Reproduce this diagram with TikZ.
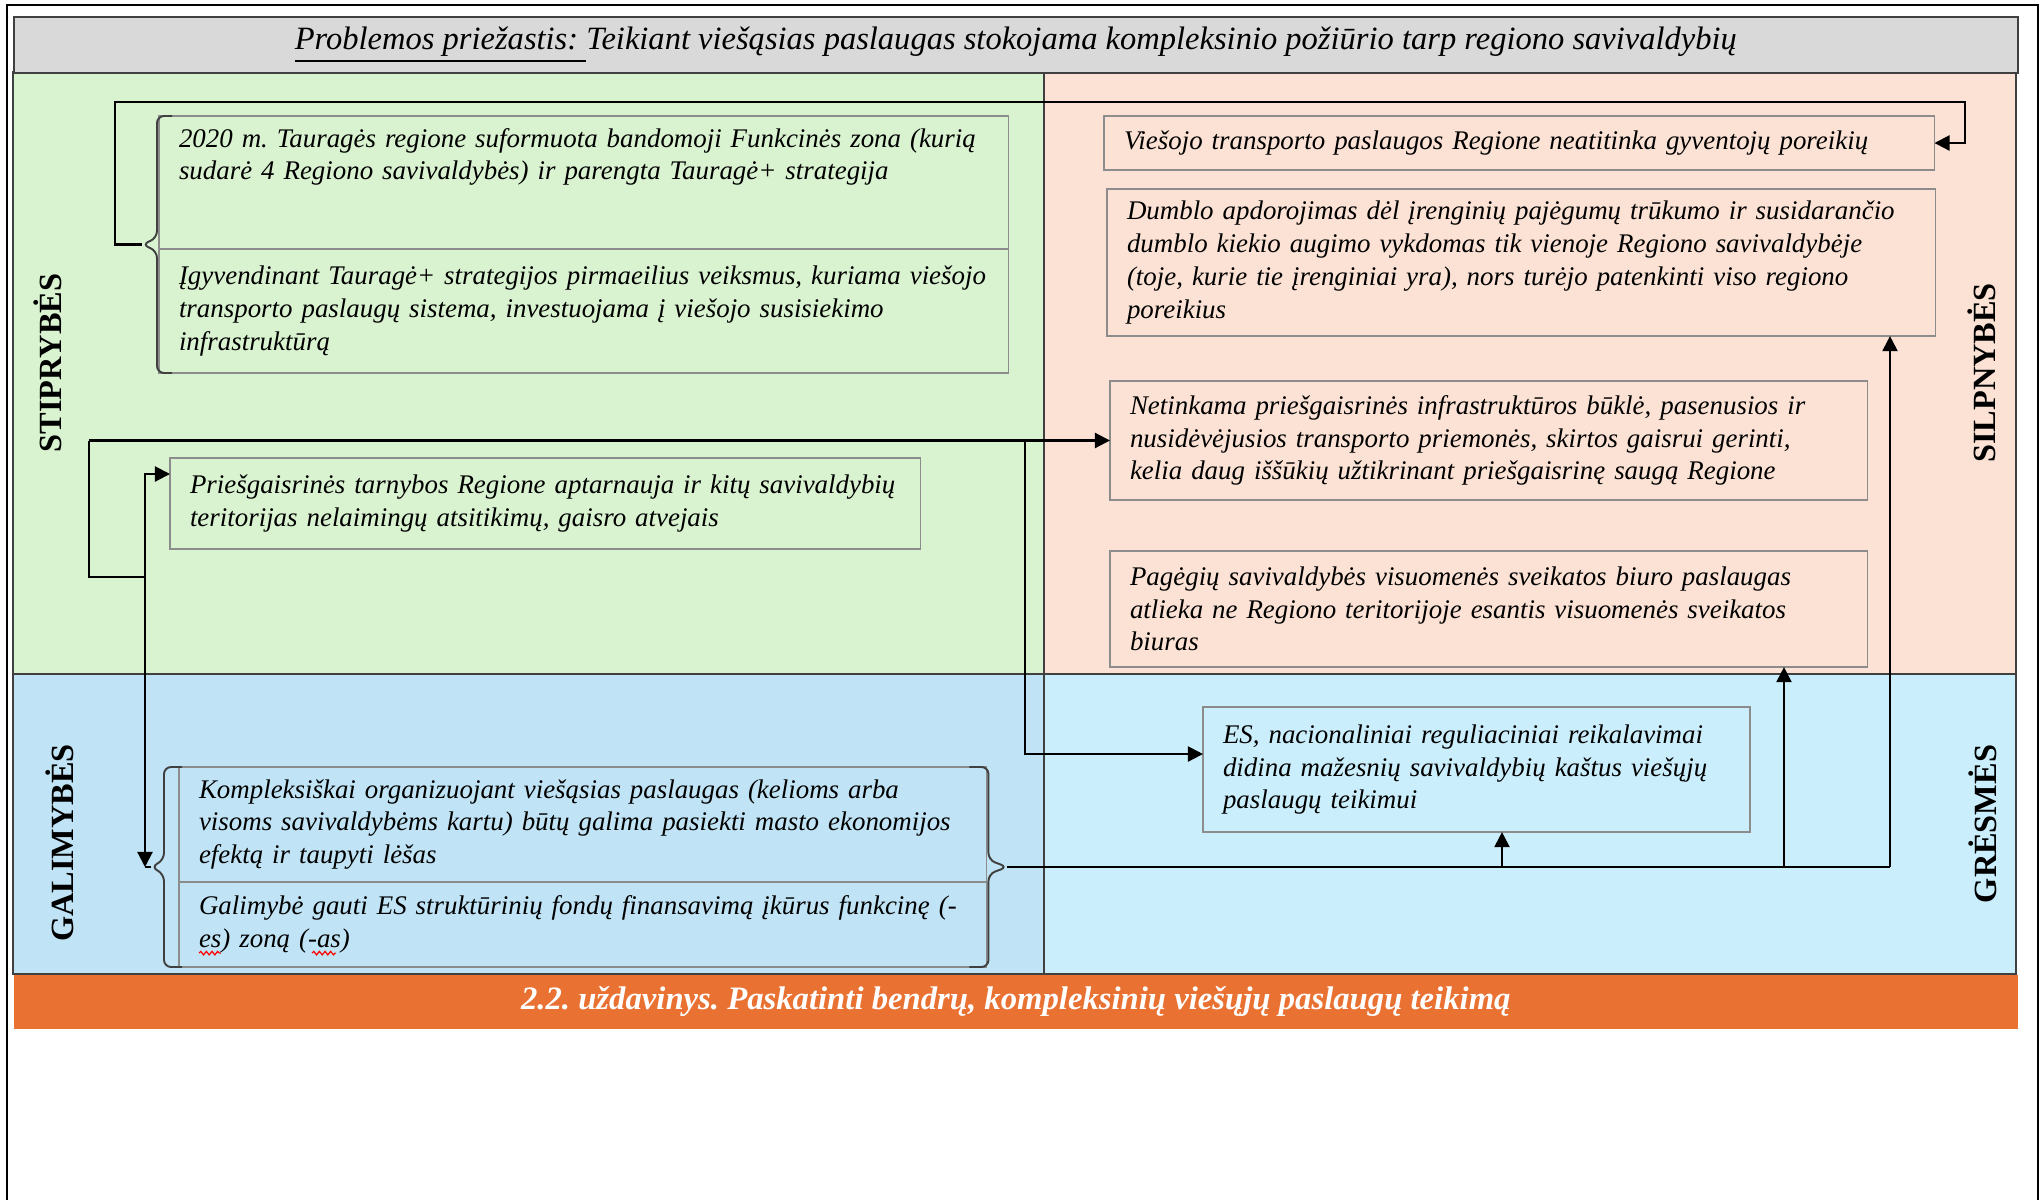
\documentclass[tikz,border=0pt]{standalone}
\usepackage{fontspec}
\setmainfont{Liberation Serif}
\usepackage{tikz}
\usetikzlibrary{arrows.meta, positioning, decorations.pathmorphing}
\frenchspacing

\definecolor{headgrey}{HTML}{D9D9D9}
\definecolor{strgreen}{HTML}{D9F2D0}
\definecolor{weakpeach}{HTML}{FBE2D5}
\definecolor{oppblue}{HTML}{C0E4F5}
\definecolor{thrblue}{HTML}{CAEEFB}
\definecolor{taskorange}{HTML}{E97132}
\definecolor{boxgrey}{HTML}{8C8C8C}
\definecolor{linegrey}{HTML}{404040}

\begin{document}
\begin{tikzpicture}[x=0.01cm, y=-0.01cm, >={Triangle[length=4.3pt,width=4.3pt]},
      cell/.style={draw=boxgrey, line width=0.5pt, anchor=north west, align=left,
                   inner xsep=0.2cm, inner ysep=0pt, outer sep=0pt,
                   font=\fontsize{7.65}{9.3}\selectfont\itshape},
      sidelabel/.style={rotate=90, inner sep=0pt, font=\fontsize{9.2}{11}\selectfont\bfseries},
      frameline/.style={draw=linegrey, line width=0.45pt},
      wire/.style={line width=0.6pt},
      curly/.style={draw=linegrey, line width=0.55pt, rounded corners=2pt},
      spell/.style={draw=red, line width=0.35pt, decorate, decoration={snake, amplitude=0.5pt, segment length=1.6pt}}]
      \useasboundingbox (0,0) rectangle (2044,1200);
      \fill[white] (0,0) rectangle (2044,1200);
      \draw[line width=0.6pt] (7,1200) -- (7,5) -- (2038,5) -- (2038,1200);

      \fill[strgreen] (13,72) rectangle (1044,674);
      \fill[weakpeach] (1044,72) rectangle (2016,674);
      \fill[oppblue] (13,674) rectangle (1044,974);
      \fill[thrblue] (1044,674) rectangle (2016,974);
      \draw[frameline] (13,72) rectangle (2016,974) (13,674) -- (2016,674) (1044,72) -- (1044,974);

      \node[frameline, fill=headgrey, anchor=north west, minimum width=20.03cm, minimum height=0.56cm,
            inner sep=0pt, font=\fontsize{9.25}{11}\selectfont\itshape] (cause) at (13,16)
            {\underline{Problemos priežastis:\ }Teikiant viešąsias paslaugas stokojama kompleksinio požiūrio tarp regiono savivaldybių};
      \node[fill=taskorange, anchor=north west, minimum width=20.03cm, minimum height=0.54cm, inner sep=0pt,
            text=white, font=\fontsize{9.3}{11}\selectfont\bfseries\itshape] (task) at (13,974)
            {2.2. uždavinys. Paskatinti bendrų, kompleksinių viešųjų paslaugų teikimą};

      \node[sidelabel] (l_s) at (48,363) {STIPRYBĖS};
      \node[sidelabel] (l_w) at (1982,373) {SILPNYBĖS};
      \node[sidelabel] (l_o) at (60,843) {GALIMYBĖS};
      \node[sidelabel] (l_t) at (1983,824) {GRĖSMĖS};

      \node[cell, text width=8.09cm, minimum height=1.33cm, text depth=25.5pt] (s_1) at (159,116)
            {2020 m. Tauragės regione suformuota bandomoji Funkcinės zona (kurią\\
             sudarė 4 Regiono savivaldybės) ir parengta Tauragė+ strategija};
      \node[cell, text width=8.09cm, minimum height=1.24cm, below=0pt of s_1] (s_2)
            {Įgyvendinant Tauragė+ strategijos pirmaeilius veiksmus, kuriama viešojo\\
             transporto paslaugų sistema, investuojama į viešojo susisiekimo\\
             infrastruktūrą};
      \node[cell, text width=7.10cm, minimum height=0.91cm] (s_3) at (170,458)
            {Priešgaisrinės tarnybos Regione aptarnauja ir kitų savivaldybių\\
             teritorijas nelaimingų atsitikimų, gaisro atvejais};
      \node[cell, text width=7.90cm, minimum height=0.54cm] (w_1) at (1104,116)
            {Viešojo transporto paslaugos Regione neatitinka gyventojų poreikių};
      \node[cell, text width=7.88cm, minimum height=1.47cm] (w_2) at (1107,189)
            {Dumblo apdorojimas dėl įrenginių pajėgumų trūkumo ir susidarančio\\
             dumblo kiekio augimo vykdomas tik vienoje Regiono savivaldybėje\\
             (toje, kurie tie įrenginiai yra), nors turėjo patenkinti viso regiono\\
             poreikius};
      \node[cell, text width=7.17cm, minimum height=1.19cm] (w_3) at (1110,381)
            {Netinkama priešgaisrinės infrastruktūros būklė, pasenusios ir\\
             nusidėvėjusios transporto priemonės, skirtos gaisrui gerinti,\\
             kelia daug iššūkių užtikrinant priešgaisrinę saugą Regione};
      \node[cell, text width=7.17cm, minimum height=1.16cm] (w_4) at (1110,551)
            {Pagėgių savivaldybės visuomenės sveikatos biuro paslaugas\\
             atlieka ne Regiono teritorijoje esantis visuomenės sveikatos\\
             biuras};
      \node[cell, text width=5.07cm, minimum height=1.25cm] (t_1) at (1203,707)
            {ES, nacionaliniai reguliaciniai reikalavimai\\
             didina mažesnių savivaldybių kaštus viešųjų\\
             paslaugų teikimui};
      \node[cell, text width=7.67cm, minimum height=1.15cm] (g_1) at (179,767)
            {Kompleksiškai organizuojant viešąsias paslaugas (kelioms arba\\
             visoms savivaldybėms kartu) būtų galima pasiekti masto ekonomijos\\
             efektą ir taupyti lėšas};
      \node[cell, text width=7.67cm, minimum height=0.85cm, below=0pt of g_1] (g_2)
            {Galimybė gauti ES struktūrinių fondų finansavimą įkūrus funkcinę (-\\
             es) zoną (-as)};
      \draw[spell] ([shift={(20,-14)}]g_2.south west) -- ++(22,0);
      \draw[spell] ([shift={(133,-14)}]g_2.south west) -- ++(24,0);

      \draw[curly] ([xshift=0.13cm]s_1.north west) -- ++(-15,0) -- ++(0,122) -- ++(-15,6.5)
            -- ++(15,6.5) -- ++(0,122) -- ++(15,0);
      \draw[curly] ([xshift=0.03cm]g_1.north west) -- ++(-18,0) -- ++(0,93) -- ++(-13,7)
            -- ++(13,7) -- ++(0,93) -- ++(18,0);
      \draw[curly] ([xshift=-0.17cm]g_1.north east) -- ++(19,0) -- ++(0,93) -- ++(19,7)
            -- ++(-19,7) -- ++(0,93) -- ++(-19,0);

      \coordinate (s_tip) at (142,244.5);
      \coordinate (loop_l) at (115,102);
      \coordinate (loop_r) at (1965,102);
      \coordinate (f_a) at (89,440.5);
      \coordinate (f_b) at (89,577);
      \coordinate (f_c) at (145,577);
      \coordinate (f_d) at (1025,440.5);
      \coordinate (g_ltip) at (151,867);
      \coordinate (g_rtip) at (1007,867);
      \coordinate (g_j1) at (1502,867);
      \coordinate (g_j2) at (1784,867);
      \coordinate (g_end) at (1890,867);

      \draw[wire, ->] (s_tip) -| (loop_l) -- (loop_r) |- (w_1.east);
      \draw[wire, ->] (f_a) -- (f_a -| w_3.west);
      \draw[wire] (f_a) -- (f_b) -- (f_c);
      \draw[wire, ->] (f_c) |- ([yshift=0.295cm]s_3.west);
      \draw[wire, ->] (f_c) -- (f_c |- g_ltip);
      \draw[wire] (f_c |- g_ltip) -- (g_ltip);
      \draw[wire, ->] (f_d) |- ([yshift=0.155cm]t_1.west);
      \draw[wire] (g_rtip) -- (g_end);
      \draw[wire, ->] (g_j1) -- (g_j1 |- t_1.south);
      \draw[wire, ->] (g_j2) -- (g_j2 |- w_4.south);
      \draw[wire, ->] (g_end) -- (g_end |- w_2.south);
\end{tikzpicture}
\end{document}
